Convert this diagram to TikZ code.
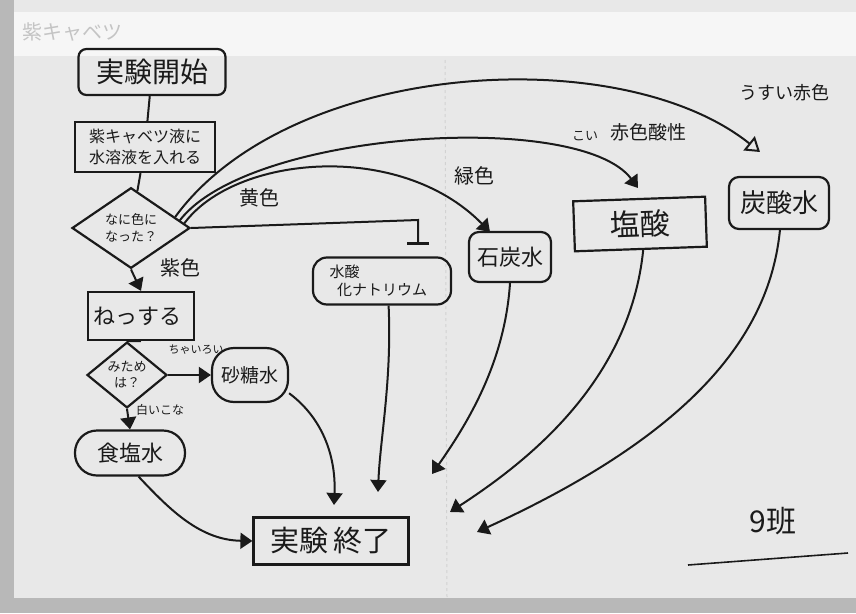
\documentclass[tikz,border=0pt]{standalone}
\usepackage{fontspec}
\setmainfont{Noto Sans CJK JP}
\usetikzlibrary{shapes.geometric,arrows.meta}
\newcommand{\fsz}[1]{\fontsize{#1}{#1}\selectfont}
\definecolor{inkc}{HTML}{1A1A1A}
\definecolor{boardc}{HTML}{E8E8E8}
\definecolor{bandc}{HTML}{F6F6F6}
\definecolor{edgec}{HTML}{B8B8B8}
\definecolor{fadec}{HTML}{C4C4C4}
\begin{document}
\begin{tikzpicture}[x=1pt,y=-1pt,
  ink/.style={line width=2.2pt, draw=inkc, text=inkc},
  box/.style={ink, rectangle, inner sep=0pt, align=center},
  rbox/.style={box, rounded corners=10pt},
  blob/.style={box, rounded corners=22pt},
  dia/.style={ink, diamond, inner sep=0pt, align=center},
  lbl/.style={inner sep=0pt, text=inkc, align=center},
  arr/.style={line width=2pt, draw=inkc, -{Triangle[width=16pt,length=12pt]}},
  oarr/.style={line width=2pt, draw=inkc, -{Triangle[open,width=18pt,length=14pt,line width=2pt]}},
  barr/.style={line width=2pt, draw=inkc, -{Bar[width=22pt,line width=3pt]}},
  con/.style={line width=2pt, draw=inkc}
]
% background
\useasboundingbox (0,0) rectangle (856,613);
\fill[edgec] (0,0) rectangle (856,613);
\fill[boardc] (14,0) rectangle (856,598);
\fill[bandc] (14,12) rectangle (856,56);
\draw[gray!35, line width=1pt, dashed] (445,60) -- (447,598);

% faded title
\node[lbl, text=fadec] (title) at (72,32) {\fsz{20}紫キャベツ};

% nodes
\node[box, rounded corners=8pt, minimum width=147pt, minimum height=46pt] (start) at (152,72) {\fsz{28}実験開始};
\node[box, minimum width=140pt, minimum height=50pt, font=\fontsize{16}{21}\selectfont] (mix) at (145,147)
  {紫キャベツ液に\\水溶液を入れる};
\node[dia, minimum width=118pt, minimum height=80pt, font=\fontsize{13}{17}\selectfont] (q1) at (131,228)
  {なに色に\\なった？};
\node[box, minimum width=106pt, minimum height=48pt, text width=96pt, align=left] (heat) at (141,316)
  {\fsz{22}ねっする};
\node[dia, minimum width=80pt, minimum height=56pt, font=\fontsize{13}{16}\selectfont] (q2) at (127,375)
  {みため\\は？};
\node[blob, minimum width=76pt, minimum height=54pt] (sugar) at (250,375) {\fsz{19}砂糖水};
\node[blob, minimum width=110pt, minimum height=45pt] (salt) at (130,453) {\fsz{22}食塩水};
\node[box, minimum width=155pt, minimum height=47pt] (end) at (331,541) {\fsz{29}実験\,終了};
\node[rbox, rounded corners=14pt, minimum width=138pt, minimum height=47pt, font=\fontsize{15}{18}\selectfont] (naoh) at (382,281)
  {水酸\phantom{ナトリウム}\\化ナトリウム};
\node[rbox, minimum width=82pt, minimum height=50pt] (lime) at (510,257) {\fsz{22}石炭水};
\node[box, minimum width=132pt, minimum height=50pt, rotate=2] (hcl) at (640,224) {\fsz{30}塩酸};
\node[rbox, minimum width=100pt, minimum height=52pt] (soda) at (779,203) {\fsz{26}炭酸水};

% labels
\node[lbl] (yel) at (259,198) {\fsz{20}黄色};
\node[lbl] (pur) at (180,268) {\fsz{20}紫色};
\node[lbl] (brn) at (196,350) {\fsz{11}ちゃいろい};
\node[lbl] (wht) at (160,410) {\fsz{12}白いこな};
\node[lbl] (grn) at (474,176) {\fsz{20}緑色};
\node[lbl] (koi) at (585,136) {\fsz{13}こい};
\node[lbl] (red) at (648,132) {\fsz{19}赤色酸性};
\node[lbl] (pale) at (784,93) {\fsz{18}うすい赤色};
\node[lbl] (team) at (773,521) {\fsz{30}9班};
\coordinate (ul1) at (688,565);
\coordinate (ul2) at (848,553);
\draw[con, line width=1.6pt] (ul1) -- (ul2);

% free ends
\coordinate (ePale) at (760,152);
\coordinate (eRed) at (638,188);
\coordinate (eGrn) at (490,232);
\coordinate (yCorner) at (418,220);
\coordinate (eYel) at (418,245);
\coordinate (eSug) at (334,505);
\coordinate (eNa) at (378,492);
\coordinate (eLi) at (432,474);
\coordinate (eHc) at (450,512);
\coordinate (eSo) at (477,532);

% main flow
\draw[con] (start) -- (mix);
\draw[con] (mix) -- (q1);
\draw[arr] (q1.south) -- (heat.north);
\draw[con] (heat.south) -- (q2.north);
\draw[arr] (q2.east) -- (sugar.west);
\draw[arr] (q2.south) -- (salt.north);

% branches from q1
\draw[oarr] (q1.14) .. controls (290,60) and (620,40) .. (ePale);
\draw[arr] (q1.9) .. controls (250,130) and (580,110) .. (eRed);
\draw[arr] (q1.5) .. controls (235,155) and (400,140) .. (eGrn);
\draw[barr] (q1.east) -- (yCorner) -- (eYel);

% to end
\draw[arr] (sugar.-25) .. controls (325,420) and (336,460) .. (eSug);
\draw[arr] (salt.-70) .. controls (170,510) and (200,540) .. (end.west);
\draw[arr] (naoh.-75) .. controls (392,380) and (380,440) .. (eNa);
\draw[arr] (lime.-90) .. controls (505,360) and (470,420) .. (eLi);
\draw[arr] (hcl.-85) .. controls (630,380) and (530,460) .. (eHc);
\draw[arr] (soda.-88) .. controls (770,330) and (700,430) .. (eSo);
\end{tikzpicture}
\end{document}
